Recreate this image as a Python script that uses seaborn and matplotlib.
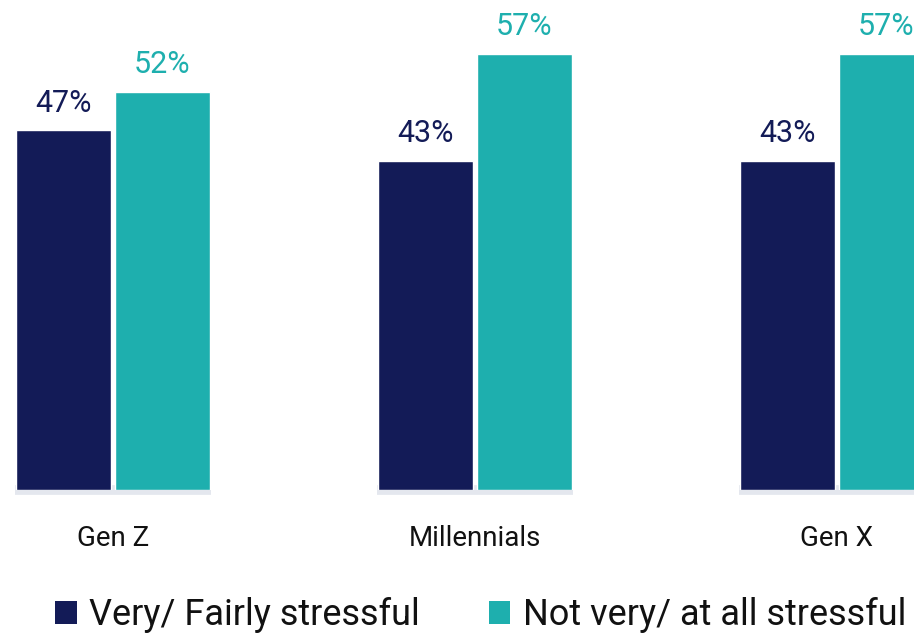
import matplotlib
matplotlib.use("Agg")
import matplotlib.pyplot as plt
from matplotlib.patches import Patch
import pandas as pd
import seaborn as sns

generations = ["Gen Z", "Millennials", "Gen X"]
series_names = ["Very/ Fairly stressful", "Not very/ at all stressful"]
very_fairly = [47, 43, 43]
not_very = [52, 57, 57]
colors = ["#131B57", "#1EAFAE"]

df = pd.DataFrame({
    "generation": generations * 2,
    "answer": [series_names[0]] * 3 + [series_names[1]] * 3,
    "pct": very_fairly + not_very,
})

sns.set_theme(style="white")
plt.rcParams["font.family"] = ["Roboto", "DejaVu Sans"]

fig = plt.figure(figsize=(9.14, 6.35), dpi=100)
ax = fig.add_axes([0, 0.2283, 1, 0.7717])

sns.barplot(data=df, x="generation", y="pct", hue="answer", order=generations,
            hue_order=series_names, palette=colors, width=0.545, gap=0.04,
            saturation=1, legend=False, ax=ax, zorder=3)

# light grey base strip under each group
for i in range(len(generations)):
    ax.hlines(0, i - 0.271, i + 0.271, color="#E4E7EE", linewidth=7,
              zorder=2, clip_on=False)

for cont, col in zip(ax.containers, colors):
    ax.bar_label(cont, labels=[f"{v:.0f}%" for v in cont.datavalues],
                 padding=9, color=col, fontsize=22)

ax.set_xlim(-0.312, 2.213)
ax.set_ylim(0, 64)
ax.set_xlabel("")
ax.set_ylabel("")
ax.set_yticks([])
ax.tick_params(axis="x", length=0, pad=25, labelsize=20, labelcolor="#111111")
for s in ax.spines.values():
    s.set_visible(False)

handles = [Patch(facecolor=c, edgecolor="none") for c in colors]
fig.legend(handles, series_names, loc="center", bbox_to_anchor=(0.526, 0.031),
           ncol=2, frameon=False, handlelength=0.6, handleheight=0.6,
           handletextpad=0.35, columnspacing=1.9,
           prop={"family": ["Roboto", "DejaVu Sans"], "size": 26})
for t in fig.legends[0].get_texts():
    t.set_color("#111111")

fig.savefig("out.png", dpi=100)
